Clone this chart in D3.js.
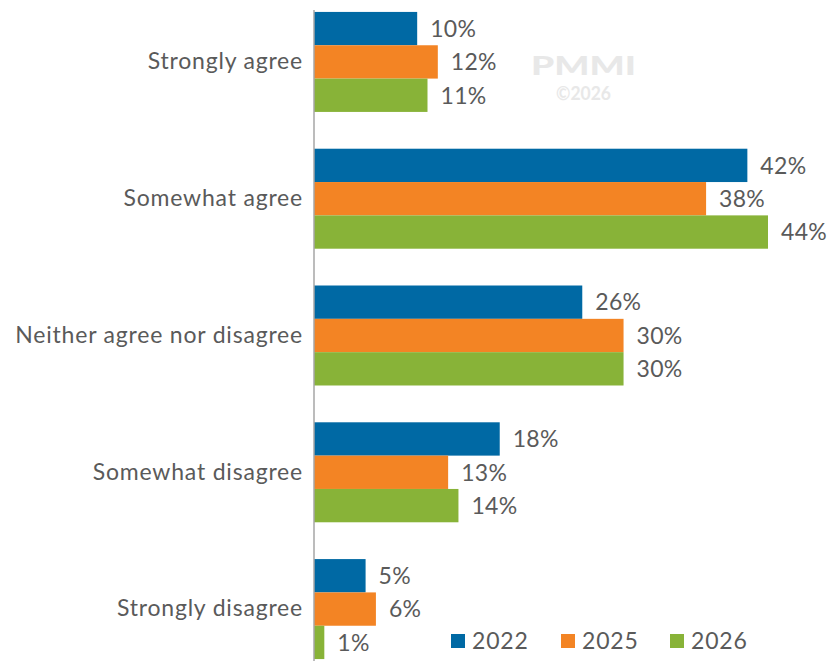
<!DOCTYPE html>
<html>
<head>
<meta charset="utf-8">
<script src="https://cdn.jsdelivr.net/npm/d3@7"></script>
<style>
  html, body { margin: 0; padding: 0; background: #fff; }
  svg { display: block; font-family: Lato, "Open Sans", sans-serif; }
</style>
</head>
<body>
<svg id="chart" width="828" height="661"></svg>
<script>
// Survey responses by year
const categories = ["Strongly agree", "Somewhat agree", "Neither agree nor disagree", "Somewhat disagree", "Strongly disagree"];
const years = ["2022", "2025", "2026"];
const values2022 = [10, 42, 26, 18, 5];
const values2025 = [12, 38, 30, 13, 6];
const values2026 = [11, 44, 30, 14, 1];
const seriesValues = [values2022, values2025, values2026];
const colors = ["#0069A4", "#F38424", "#88B338"];

const svg = d3.select("#chart");
const axisX = 314;

const x = d3.scaleLinear().domain([0, 44]).range([axisX, axisX + 454]);
const y = d3.scaleBand().domain(categories).range([-6.4, 677.4]).paddingInner(0.269).paddingOuter(0.134);
const ySub = d3.scaleBand().domain(years).range([0, y.bandwidth()]);

const textColor = "#5A5A5A";
const fontSize = 23;
const spacing = "0.8px";

// watermark
svg.append("text").attr("x", 531).attr("y", 75)
  .attr("font-size", 26).attr("font-weight", 900).attr("fill", "#E8E8E8")
  .attr("textLength", 105).attr("lengthAdjust", "spacingAndGlyphs").text("PMMI");
svg.append("text").attr("x", 556).attr("y", 100)
  .attr("font-size", 18).attr("font-weight", 700).attr("fill", "#E8E8E8")
  .attr("textLength", 55).attr("lengthAdjust", "spacingAndGlyphs").text("©2026");

// bars and value labels
const groups = svg.selectAll("g.cat").data(categories).join("g")
  .attr("class", "cat")
  .attr("transform", d => `translate(0,${y(d)})`);

years.forEach((yr, si) => {
  groups.append("rect")
    .attr("x", x(0))
    .attr("y", ySub(yr))
    .attr("width", (d, i) => x(seriesValues[si][i]) - x(0))
    .attr("height", ySub.bandwidth())
    .attr("fill", colors[si]);
  groups.append("text")
    .attr("x", (d, i) => x(seriesValues[si][i]) + 13)
    .attr("y", ySub(yr) + ySub.bandwidth() / 2)
    .attr("dy", "0.36em")
    .attr("font-size", fontSize)
    .style("letter-spacing", "0.3px")
    .attr("fill", textColor)
    .text((d, i) => seriesValues[si][i] + "%");
});

// category axis
const yAxis = d3.axisLeft(y).tickSize(0).tickPadding(11);
const ax = svg.append("g").attr("transform", `translate(${axisX},0)`).call(yAxis);
ax.select(".domain").remove();
ax.selectAll("text").attr("font-size", fontSize).attr("fill", textColor)
  .attr("font-family", "Lato, sans-serif").style("letter-spacing", spacing);
svg.append("line").attr("x1", axisX).attr("x2", axisX).attr("y1", 10).attr("y2", 661)
  .attr("stroke", "#A6A6A6").attr("stroke-width", 1.5);

// legend
const legendX = [451, 561, 670];
const legend = svg.append("g");
years.forEach((yr, i) => {
  legend.append("rect").attr("x", legendX[i]).attr("y", 634).attr("width", 14).attr("height", 14).attr("fill", colors[i]);
  legend.append("text").attr("x", legendX[i] + 21).attr("y", 641).attr("dy", "0.36em")
    .attr("font-size", fontSize).style("letter-spacing", spacing).attr("fill", textColor).text(yr);
});
</script>
</body>
</html>
